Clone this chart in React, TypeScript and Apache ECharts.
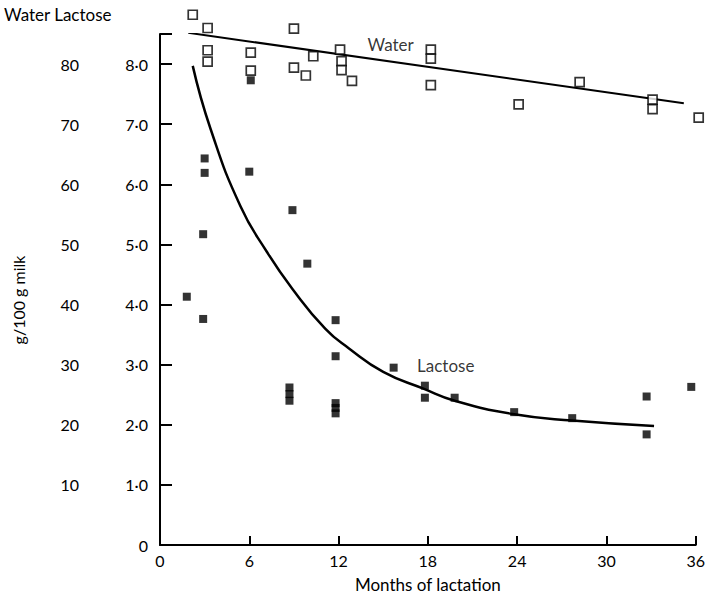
import React, { useEffect, useRef } from "react";
import * as echarts from "echarts";

// Water content (g/100 g milk) — [month, value]
const waterPoints: [number, number][] = [
  [2.2, 88.2], [3.2, 86.0], [3.2, 82.3], [3.2, 80.4], [6.1, 81.9], [6.1, 78.9],
  [9.0, 85.9], [9.0, 79.4], [9.8, 78.1], [10.3, 81.3], [12.1, 82.4], [12.2, 80.5],
  [12.2, 79.0], [12.9, 77.2], [18.2, 82.4], [18.2, 80.9], [18.2, 76.5], [24.1, 73.3],
  [28.2, 77.0], [33.1, 74.1], [33.1, 72.5], [36.2, 71.1],
];
// Lactose content (g/100 g milk) — [month, value]
const lactosePoints: [number, number][] = [
  [1.8, 4.13], [2.9, 5.17], [2.9, 3.76], [3.0, 6.43], [3.0, 6.19], [6.0, 6.21],
  [6.1, 7.73], [8.7, 2.62], [8.7, 2.51], [8.7, 2.40], [8.9, 5.57], [9.9, 4.68],
  [11.8, 3.74], [11.8, 3.14], [11.8, 2.36], [11.8, 2.28], [11.8, 2.19],
  [15.7, 2.95], [17.8, 2.65], [17.8, 2.45], [19.8, 2.45], [23.8, 2.21],
  [27.7, 2.11], [32.7, 2.47], [32.7, 1.84], [35.7, 2.63],
];
// Fitted lines
const waterLine: [number, number][] = [[1.9, 85.2], [35.2, 73.5]];
const lactoseCurve: [number, number][] = [
  [2.2, 7.97], [3.4, 6.92], [5.4, 5.64], [7.2, 4.87], [8.9, 4.26], [11.1, 3.6],
  [12.7, 3.27], [15.0, 2.88], [17.7, 2.6], [19.8, 2.4], [23.7, 2.18], [27.7, 2.07],
  [33.2, 1.98],
];
const waterLabel: [number, number] = [15.5, 83.3];
const lactoseLabel: [number, number] = [19.2, 2.98];
const monthTicks = [0, 6, 12, 18, 24, 30, 36];

const FONT = "Lato, 'Open Sans', sans-serif";

export default function App() {
  const ref = useRef<HTMLDivElement>(null);
  useEffect(() => {
    document.body.style.margin = "0";
    const chart = echarts.init(ref.current!, null, { renderer: "svg" });
    const txt = { color: "#000", fontFamily: FONT, fontSize: 16 };
    chart.setOption({
      animation: false,
      backgroundColor: "#fff",
      grid: { left: 160, right: 11, top: 34, bottom: 51 },
      xAxis: {
        type: "value",
        min: monthTicks[0],
        max: monthTicks[monthTicks.length - 1],
        interval: 6,
        name: "Months of lactation",
        nameLocation: "middle",
        nameGap: 31,
        nameTextStyle: { ...txt, fontSize: 17 },
        axisLine: { lineStyle: { color: "#000", width: 2 } },
        axisTick: { inside: true, length: 9, lineStyle: { color: "#000", width: 2 } },
        axisLabel: { ...txt, margin: 7 },
        splitLine: { show: false },
      },
      yAxis: [
        {
          type: "value",
          min: 0,
          max: 85,
          interval: 10,
          position: "left",
          offset: 62,
          axisLine: { show: false },
          axisTick: { show: false },
          axisLabel: {
            ...txt,
            margin: 19,
            formatter: (v: number) => (v > 0 && v % 10 === 0 ? String(v) : ""),
          },
          splitLine: { show: false },
        },
        {
          type: "value",
          min: 0,
          max: 8.5,
          interval: 1,
          position: "left",
          axisLine: { show: true, lineStyle: { color: "#000", width: 2 } },
          axisTick: { inside: true, length: 12, lineStyle: { color: "#000", width: 2 } },
          axisLabel: {
            ...txt,
            margin: 12,
            formatter: (v: number) =>
              v === 0 ? "0" : Number.isInteger(v) ? v.toFixed(1).replace(".", "·") : "",
          },
          splitLine: { show: false },
        },
      ],
      series: [
        {
          type: "line",
          data: waterLine,
          yAxisIndex: 0,
          symbol: "none",
          lineStyle: { color: "#000", width: 2 },
          z: 2,
        },
        {
          type: "line",
          data: lactoseCurve,
          yAxisIndex: 1,
          smooth: 0.5,
          symbol: "none",
          lineStyle: { color: "#000", width: 2.5 },
          z: 2,
        },
        {
          type: "scatter",
          data: waterPoints,
          yAxisIndex: 0,
          symbol: "rect",
          symbolSize: 9,
          clip: false,
          itemStyle: { color: "#fff", borderColor: "#000", borderWidth: 1.7 },
          z: 3,
        },
        {
          type: "scatter",
          data: lactosePoints,
          yAxisIndex: 1,
          symbol: "rect",
          symbolSize: 8,
          clip: false,
          itemStyle: { color: "#000" },
          z: 3,
        },
        {
          type: "scatter",
          data: [waterLabel],
          yAxisIndex: 0,
          symbolSize: 1,
          itemStyle: { color: "transparent" },
          label: { show: true, position: "inside", formatter: "Water", ...txt, fontSize: 17 },
          z: 4,
        },
        {
          type: "scatter",
          data: [lactoseLabel],
          yAxisIndex: 1,
          symbolSize: 1,
          itemStyle: { color: "transparent" },
          label: { show: true, position: "inside", formatter: "Lactose", ...txt, fontSize: 17 },
          z: 4,
        },
      ],
      graphic: [
        {
          type: "text",
          left: 4,
          top: 6,
          style: { text: "Water Lactose", fill: "#000", font: `17px ${FONT}` },
        },
        {
          type: "text",
          x: 18,
          y: 300,
          rotation: Math.PI / 2,
          style: {
            text: "g/100 g milk",
            fill: "#000",
            font: `16px ${FONT}`,
            align: "center",
            verticalAlign: "middle",
          },
        },
      ],
    });
    return () => chart.dispose();
  }, []);
  return <div ref={ref} style={{ width: 708, height: 598 }} />;
}
